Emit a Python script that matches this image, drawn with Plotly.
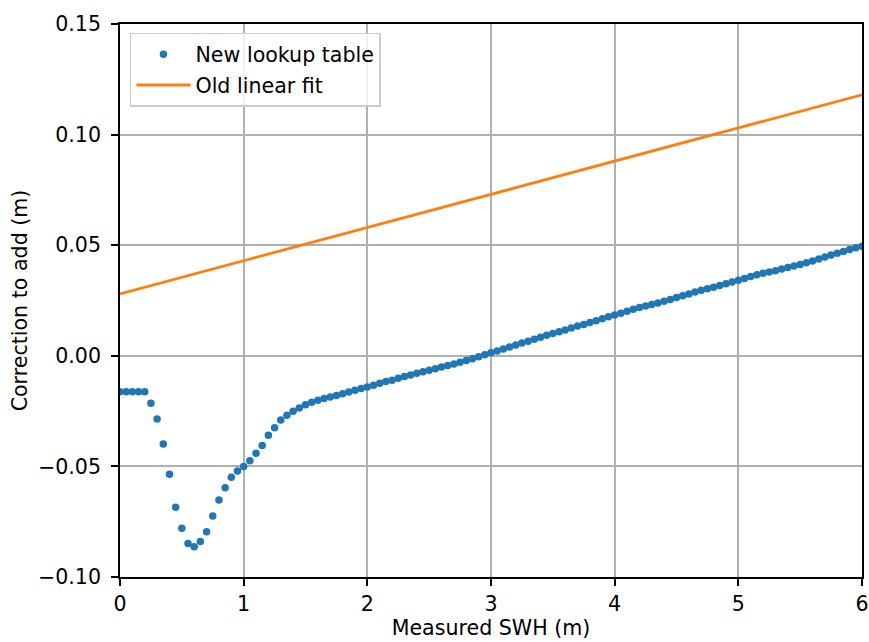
import plotly.graph_objects as go

# New lookup table (Measured SWH in m, correction in m)
swh = [round(0.05 * i, 2) for i in range(121)]
correction = [
    -0.0162, -0.0162, -0.0162, -0.0162, -0.0162,
    -0.0215, -0.0286, -0.0399, -0.0536, -0.0685,
    -0.0780, -0.0848, -0.0863, -0.0840, -0.0795,
    -0.0724, -0.0652, -0.0596, -0.0549, -0.0521,
    -0.0501, -0.0474, -0.0441, -0.0406, -0.0359,
    -0.0325, -0.0290, -0.0269, -0.0251, -0.0236,
    -0.0221, -0.0210, -0.0201, -0.0193, -0.0186,
    -0.0179, -0.0172, -0.0164, -0.0156, -0.0148,
    -0.0141, -0.0133, -0.0124, -0.0116, -0.0110,
    -0.0101, -0.0094, -0.0087, -0.0079, -0.0072,
    -0.0065, -0.0058, -0.0051, -0.0044, -0.0037,
    -0.0029, -0.0021, -0.0013, -0.0004, 0.0005,
    0.0014, 0.0022, 0.0031, 0.0040, 0.0049,
    0.0058, 0.0066, 0.0075, 0.0084, 0.0093,
    0.0101, 0.0109, 0.0117, 0.0126, 0.0135,
    0.0142, 0.0150, 0.0158, 0.0167, 0.0176,
    0.0184, 0.0192, 0.0201, 0.0210, 0.0218,
    0.0225, 0.0232, 0.0239, 0.0247, 0.0255,
    0.0263, 0.0271, 0.0279, 0.0288, 0.0296,
    0.0303, 0.0310, 0.0318, 0.0326, 0.0334,
    0.0341, 0.0350, 0.0358, 0.0366, 0.0373,
    0.0379, 0.0385, 0.0392, 0.0399, 0.0406,
    0.0413, 0.0421, 0.0429, 0.0438, 0.0447,
    0.0456, 0.0464, 0.0472, 0.0480, 0.0488,
    0.0495,
]

# Old linear fit
fit_x = [0.0, 6.0]
fit_y = [0.028, 0.118]

x_ticks = [0, 1, 2, 3, 4, 5, 6]
y_ticks = [-0.10, -0.05, 0.00, 0.05, 0.10, 0.15]

FONT = "DejaVu Sans"
FS = 20.6

fig = go.Figure()
fig.add_trace(go.Scatter(
    x=swh, y=correction, mode="markers", name="New lookup table",
    marker=dict(color="#1f77b4", size=7.5), legendgroup="a",
))
fig.add_trace(go.Scatter(
    x=fit_x, y=fit_y, mode="lines", name="Old linear fit",
    line=dict(color="#ff7f0e", width=2.8), legendgroup="b",
))

axis_common = dict(
    showline=True, linecolor="black", linewidth=1.6, mirror=True,
    ticks="outside", ticklen=7, tickwidth=1.6, tickcolor="black",
    showgrid=True, gridcolor="#b0b0b0", gridwidth=1.6, zeroline=False,
    tickfont=dict(family=FONT, size=FS, color="black"),
    ticklabeloverflow="allow",
)

fig.update_xaxes(
    range=[0, 6], tickvals=x_ticks, ticktext=[str(t) for t in x_ticks],
    title=dict(text="Measured SWH (m)", font=dict(family=FONT, size=FS, color="black"), standoff=4),
    **axis_common,
)
fig.update_yaxes(
    range=[-0.10, 0.15], tickvals=y_ticks, tickformat=".2f",
    ticklabelstandoff=6,
    title=dict(text="Correction to add (m)", font=dict(family=FONT, size=FS, color="black"), standoff=5),
    **axis_common,
)

fig.update_layout(
    width=869, height=642,
    margin=dict(l=120, r=7, t=24, b=65, autoexpand=False),
    paper_bgcolor="white", plot_bgcolor="white",
    font=dict(family=FONT, size=FS, color="black"),
    legend=dict(
        x=0.0134, y=0.984, xanchor="left", yanchor="top",
        bgcolor="rgba(255,255,255,0.8)", bordercolor="#cccccc", borderwidth=1.5,
        font=dict(family=FONT, size=FS, color="black"),
        tracegroupgap=1, itemwidth=54,
    ),
    showlegend=True,
)

fig.write_html("out.html")
